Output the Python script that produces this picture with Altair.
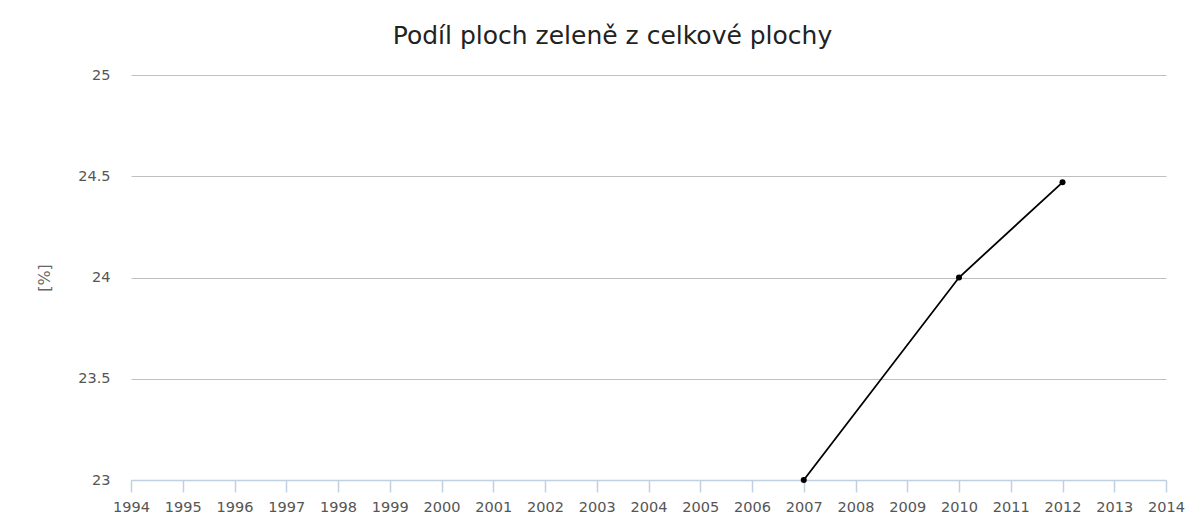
import altair as alt
import pandas as pd

years = [2007, 2010, 2012]
values = [23.0, 24.0, 24.47]
year_ticks = list(range(1994, 2015))
y_ticks = [23, 23.5, 24, 24.5, 25]

df = pd.DataFrame({"rok": years, "podil": values})

x = alt.X("rok:Q",
          scale=alt.Scale(domain=[1994, 2014], nice=False, zero=False),
          axis=alt.Axis(values=year_ticks, format="d", title=None, grid=False,
                        domainColor="#c0d0e0", tickColor="#c0d0e0", tickSize=12,
                        tickWidth=1.5, domainWidth=1.5,
                        labelColor="#555555", labelFontSize=14.5, labelPadding=8,
                        labelOverlap=False, labelBound=False, labelFlush=False,
                        labelFont="DejaVu Sans"))
y = alt.Y("podil:Q",
          scale=alt.Scale(domain=[23, 25], nice=False, zero=False),
          axis=alt.Axis(values=y_ticks, format="~g", title="[%]", grid=True, gridColor="#c0c0c0",
                        domain=False, ticks=False, labelPadding=21, labelOverlap=False,
                        labelColor="#555555", labelFontSize=14.5, labelFont="DejaVu Sans",
                        titleColor="#666666", titleFontSize=16, titleFontWeight="normal",
                        titleFont="DejaVu Sans", titlePadding=25))

line = alt.Chart(df).mark_line(color="black", strokeWidth=1.8).encode(x=x, y=y)
pts = alt.Chart(df).mark_point(filled=True, color="black", size=36, opacity=1).encode(x=x, y=y)

chart = (line + pts).properties(
    width=1035, height=405,
    title=alt.TitleParams("Podíl ploch zeleně z celkové plochy", font="DejaVu Sans",
                          fontSize=25, fontWeight="normal", color="#222222",
                          anchor="middle", offset=18, dx=-36),
    autosize=alt.AutoSizeParams(type="none"),
    padding={"left": 123, "top": 67, "right": 20, "bottom": 38},
).configure_view(stroke=None)

chart.save("out.html", embed_options={"renderer": "svg", "actions": False})
